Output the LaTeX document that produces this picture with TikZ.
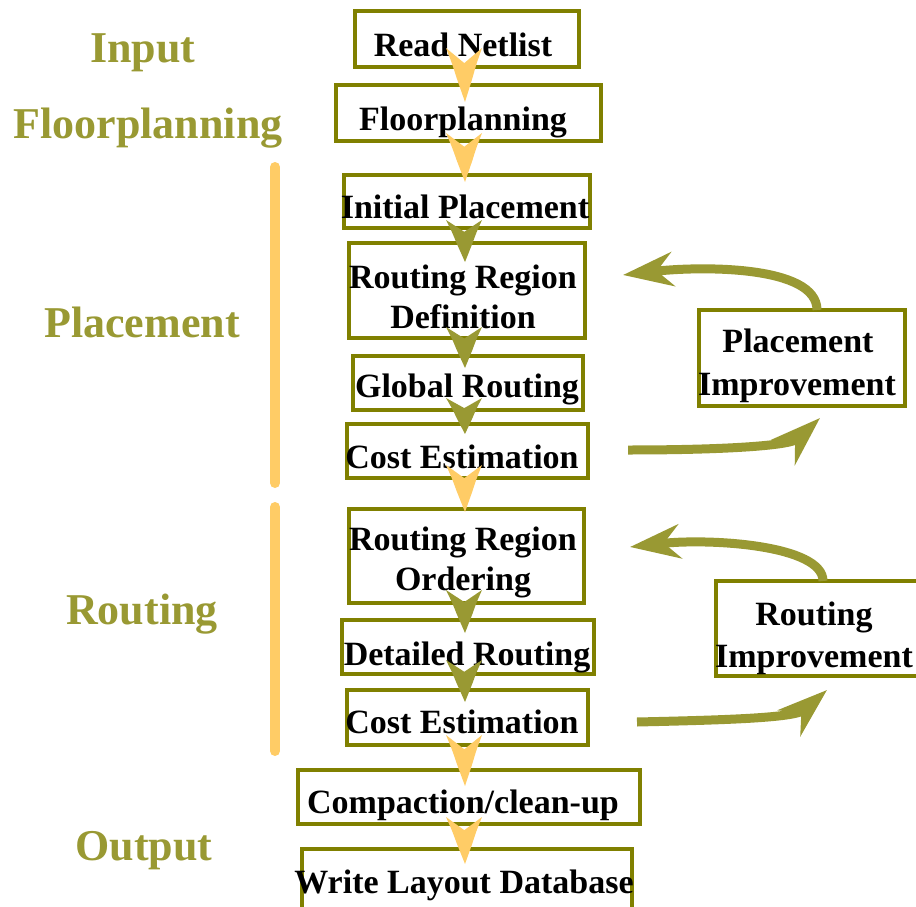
\documentclass[tikz,border=0pt]{standalone}
\usepackage{fontspec}
\setmainfont{Liberation Serif}
\usetikzlibrary{calc,arrows.meta}
\definecolor{olivebox}{HTML}{808000}
\definecolor{olivedark}{HTML}{999933}
\definecolor{lightorange}{HTML}{FFCC66}
\tikzset{
 box/.style={draw=olivebox, line width=4pt, inner sep=0pt, outer sep=0pt},
 boxtext/.style={anchor=base, inner sep=0pt, font=\fontsize{34}{40}\selectfont\bfseries},
 sidelabel/.style={anchor=base, inner sep=0pt, text=olivedark, font=\fontsize{44}{50}\selectfont\bfseries},
 sidebar/.style={draw=lightorange, line width=10pt, line cap=round},
 loopline/.style={draw=olivedark, line width=9pt, -{Stealth[length=50pt,width=34pt,inset=16pt]}},
}
\newcommand\flowarr[3]{\fill[#3] ($(#1)+(-18,0)$) .. controls ($(#1)!0.3!(#2)+(-12,0)$) .. ($(#1)!0.55!(#2)+(-8,0)$) -- (#2) -- ($(#1)!0.55!(#2)+(8,0)$) .. controls ($(#1)!0.3!(#2)+(12,0)$) .. ($(#1)+(18,0)$) -- ($(#1)!0.28!(#2)$) -- cycle;}
\begin{document}
\begin{tikzpicture}[x=1pt,y=-1pt]
\useasboundingbox (0,0) rectangle (916,907);
\clip (0,0) rectangle (916,907);
% boxes
\node[box, minimum width=224pt, minimum height=56pt] (b1) at (467,39) {};
\node[box, minimum width=265pt, minimum height=56pt] (b2) at (468.5,113) {};
\node[box, minimum width=246pt, minimum height=53pt] (b3) at (467,201.5) {};
\node[box, minimum width=236pt, minimum height=95pt] (b4) at (467,290.5) {};
\node[box, minimum width=230pt, minimum height=54pt] (b5) at (468,383) {};
\node[box, minimum width=241pt, minimum height=54pt] (b6) at (467.5,451) {};
\node[box, minimum width=235pt, minimum height=94pt] (b7) at (466.5,556) {};
\node[box, minimum width=252pt, minimum height=54pt] (b8) at (468,647) {};
\node[box, minimum width=241pt, minimum height=55pt] (b9) at (467.5,717.5) {};
\node[box, minimum width=342pt, minimum height=54pt] (b10) at (469,797) {};
\node[box, minimum width=330pt, minimum height=62pt] (b11) at (467,880) {};
\node[box, minimum width=206pt, minimum height=96pt] (pi) at (802,358) {};
\node[box, minimum width=214pt, minimum height=95pt] (ri) at (823,628.5) {};
% box texts
\node[boxtext] (t1) at (463,57) {Read Netlist};
\node[boxtext] (t2) at (463,130) {Floorplanning};
\node[boxtext] (t3) at (465,218) {Initial Placement};
\node[boxtext] (t4a) at (463,288) {Routing Region};
\node[boxtext] (t4b) at (463,328) {Definition};
\node[boxtext] (t5) at (467,397) {Global Routing};
\node[boxtext] (t6) at (462,468) {Cost Estimation};
\node[boxtext] (t7a) at (463,550) {Routing Region};
\node[boxtext] (t7b) at (463,590) {Ordering};
\node[boxtext] (t8) at (467,665) {Detailed Routing};
\node[boxtext] (t9) at (462,733) {Cost Estimation};
\node[boxtext] (t10) at (463,813) {Compaction/clean-up};
\node[boxtext] (t11) at (464,893) {Write Layout Database};
\node[boxtext] (tpia) at (798,352) {Placement};
\node[boxtext] (tpib) at (797,395) {Improvement};
\node[boxtext] (tria) at (814,625) {Routing};
\node[boxtext] (trib) at (814,667) {Improvement};
% side labels
\node[sidelabel] (lin) at (143,63) {Input};
\node[sidelabel] (lfp) at (148,138) {Floorplanning};
\node[sidelabel] (lpl) at (142,337) {Placement};
\node[sidelabel] (lro) at (142,624) {Routing};
\node[sidelabel] (lout) at (144,860) {Output};
% side bars
\coordinate (s1a) at (275,167); \coordinate (s1b) at (275,483);
\coordinate (s2a) at (275,507); \coordinate (s2b) at (275,751);
\draw[sidebar] (s1a) -- (s1b);
\draw[sidebar] (s2a) -- (s2b);
% flow arrows
\coordinate (a1s) at (464,48);  \coordinate (a1e) at (465,102);
\coordinate (a2s) at (464,133); \coordinate (a2e) at (465,182);
\coordinate (a3s) at (464,220); \coordinate (a3e) at (465,262);
\coordinate (a4s) at (464,327); \coordinate (a4e) at (465,368);
\coordinate (a5s) at (464,398); \coordinate (a5e) at (465,434);
\coordinate (a6s) at (464,465); \coordinate (a6e) at (465,512);
\coordinate (a7s) at (464,590); \coordinate (a7e) at (465,633);
\coordinate (a8s) at (464,660); \coordinate (a8e) at (465,702);
\coordinate (a9s) at (464,735); \coordinate (a9e) at (465,786);
\coordinate (a10s) at (464,817); \coordinate (a10e) at (465,864);
\flowarr{a1s}{a1e}{lightorange}
\flowarr{a2s}{a2e}{lightorange}
\flowarr{a3s}{a3e}{olivedark}
\flowarr{a4s}{a4e}{olivedark}
\flowarr{a5s}{a5e}{olivedark}
\flowarr{a6s}{a6e}{lightorange}
\flowarr{a7s}{a7e}{olivedark}
\flowarr{a8s}{a8e}{olivedark}
\flowarr{a9s}{a9e}{lightorange}
\flowarr{a10s}{a10e}{lightorange}
% improvement loops
\coordinate (pis) at ($(pi.north)+(15,0)$);
\coordinate (pie) at (623,275);
\coordinate (pls) at (628,450);
\coordinate (ple) at (820,418);
\coordinate (ris) at ($(ri.north)+(0,0)$);
\coordinate (rie) at (630,547);
\coordinate (rls) at (637,722);
\coordinate (rle) at (827,690);
\draw[loopline] (pis) .. controls (817,265) and (700,266) .. (pie);
\draw[loopline] (pls) .. controls (720,450) and (790,446) .. (ple);
\draw[loopline] (ris) .. controls (823,545) and (710,538) .. (rie);
\draw[loopline] (rls) .. controls (725,720) and (795,718) .. (rle);
\end{tikzpicture}
\end{document}
